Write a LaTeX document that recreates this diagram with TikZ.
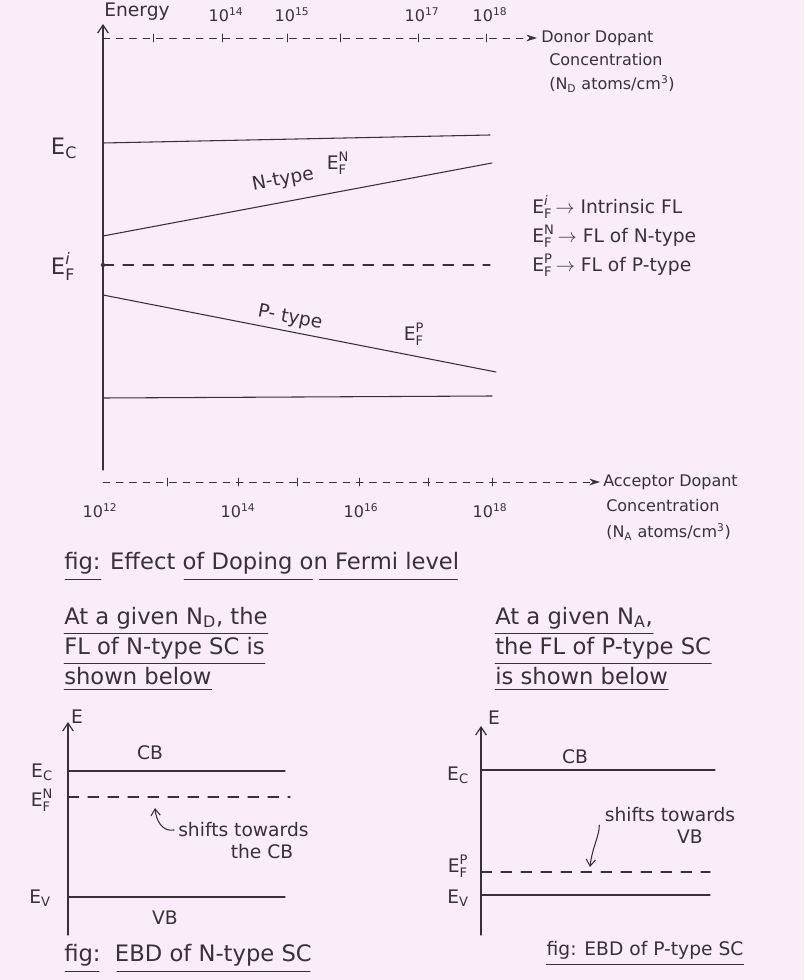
\documentclass[tikz,border=0pt]{standalone}
\usepackage{amsmath,amssymb}
\usepackage{fontspec}
\setmainfont{DejaVu Sans}
\usepackage{tikz}
\usetikzlibrary{arrows.meta,positioning}
\definecolor{paper}{RGB}{250,236,248}
\definecolor{pen}{RGB}{55,50,55}
\newcommand{\lev}[2]{$\text{E}_{\text{#1}}^{\text{#2}}$}

\begin{document}
\begin{tikzpicture}[x=0.75pt,y=-0.75pt,line cap=round,line join=round,
  lvl/.style={draw=pen,line width=.8pt},
  fermi/.style={draw=pen,line width=.8pt,dash pattern=on 8pt off 7pt},
  conc/.style={draw=pen,line width=.7pt,dash pattern=on 5pt off 5pt,-{Stealth[length=8pt,width=5pt]}},
  eaxis/.style={draw=pen,line width=.9pt,-{Straight Barb[length=6pt,width=8pt]}},
  note/.style={text=pen,font=\fontsize{12}{14}\selectfont,inner sep=0pt},
  mid/.style={text=pen,font=\fontsize{14}{16}\selectfont,inner sep=0pt},
  big/.style={text=pen,font=\fontsize{17}{19}\selectfont,inner sep=0pt},
  uline/.style={draw=pen,line width=.7pt}]
\fill[paper] (0,0) rectangle (804,980);
\path[use as bounding box] (0,0) rectangle (804,980);

% top chart: energy axis and concentration axes
\coordinate (o) at (103,470);
\coordinate (etop) at (103,24);
\draw[eaxis] (o) -- (etop);
\node[mid] (energy) at (137,12) {Energy};

\coordinate (dL) at (103,38);
\coordinate (dR) at (537,38);
\draw[conc] (dL) -- (dR);
\foreach \x in {153,222,287,340,418,486}
  \draw[pen,line width=.7pt] (\x,34) -- (\x,42);
\node[note] (t14) at (226,15) {10\textsuperscript{14}};
\node[note] (t15) at (292,15) {10\textsuperscript{15}};
\node[note] (t17) at (422,15) {10\textsuperscript{17}};
\node[note] (t18) at (490,15) {10\textsuperscript{18}};
\node[note,anchor=west] (donor) at (541,38) {Donor Dopant};
\node[note,anchor=west] (dconc) at (549,60) {Concentration};
\node[note,anchor=west] (dunit) at (549,84) {(N\textsubscript{D} atoms/cm\textsuperscript{3})};

\coordinate (aL) at (103,482);
\coordinate (aR) at (600,482);
\draw[conc] (aL) -- (aR);
\foreach \x in {167,238,297,359,428,492}
  \draw[pen,line width=.7pt] (\x,478) -- (\x,486);
\node[note] (b12) at (100,511) {10\textsuperscript{12}};
\node[note] (b14) at (238,511) {10\textsuperscript{14}};
\node[note] (b16) at (361,511) {10\textsuperscript{16}};
\node[note] (b18) at (490,511) {10\textsuperscript{18}};
\node[note,anchor=west] (acc) at (603,482) {Acceptor Dopant};
\node[note,anchor=west] (aconc) at (606,506) {Concentration};
\node[note,anchor=west] (aunit) at (606,532) {(N\textsubscript{A} atoms/cm\textsuperscript{3})};

% levels
\coordinate (ecL) at (103,143);
\coordinate (ecR) at (490,135);
\draw[lvl] (ecL) -- (ecR);
\node[big] (ec) at (64,148) {E\textsubscript{C}};

\coordinate (nL) at (103,236);
\coordinate (nR) at (492,163);
\draw[lvl] (nL) -- (nR);
\node[mid,rotate=10.7] (ntype) at (283,180) {N-type};
\node[mid] (nef1) at (338,163) {\lev{F}{N}};

\coordinate (fiL) at (103,265);
\coordinate (fiR) at (490,265);
\draw[fermi] (fiL) -- (fiR);
\fill[pen] (fiL) circle (1.6pt);
\node[big] (efi) at (63,266) {\lev{F}{\textit{i}}};

\coordinate (pL) at (103,295);
\coordinate (pR) at (496,372);
\draw[lvl] (pL) -- (pR);
\node[mid,rotate=-11] (ptype) at (290,318) {P- type};
\node[mid] (pef) at (414,334) {\lev{F}{P}};

\coordinate (evL) at (103,398);
\coordinate (evR) at (492,396);
\draw[lvl] (evL) -- (evR);

% legend
\node[mid,anchor=west] (leg1) at (532,207) {\lev{F}{\textit{i}}$\,\rightarrow$ Intrinsic FL};
\node[mid,anchor=west] (leg2) at (532,236) {\lev{F}{N}$\,\rightarrow$ FL of N-type};
\node[mid,anchor=west] (leg3) at (532,265) {\lev{F}{P}$\,\rightarrow$ FL of P-type};

% caption of the top chart
\node[big,anchor=west] (cap1) at (64,563) {fig: Effect of Doping on Fermi level};
\draw[uline] ([shift={(1,5)}]cap1.south west) -- ++(36,0);
\draw[uline] ([shift={(120,5)}]cap1.south west) -- ++(95,0);
\draw[uline] ([shift={(-235,5)}]cap1.south east) -- ++(88,0);
\draw[uline] ([shift={(-140,5)}]cap1.south east) -- ([shift={(-2,5)}]cap1.south east);

% remarks
\node[big,anchor=west] (rl1) at (64,618) {At a given N\textsubscript{D}, the};
\node[big,anchor=west] (rl2) at (64,648) {FL of N-type SC is};
\node[big,anchor=west] (rl3) at (64,676) {shown below};
\draw[uline] ([yshift=-3]rl1.south west) -- ([yshift=-3]rl1.south east);
\draw[uline] ([yshift=-3]rl2.south west) -- ([yshift=-3]rl2.south east);
\draw[uline] ([yshift=-3]rl3.south west) -- ([yshift=-3]rl3.south east);

\node[big,anchor=west] (rr1) at (495,618) {At a given N\textsubscript{A},};
\node[big,anchor=west] (rr2) at (495,648) {the FL of P-type SC};
\node[big,anchor=west] (rr3) at (495,676) {is shown below};
\draw[uline] ([yshift=-3]rr1.south west) -- ([yshift=-3]rr1.south east);
\draw[uline] ([yshift=-3]rr2.south west) -- ([yshift=-3]rr2.south east);
\draw[uline] ([yshift=-3]rr3.south west) -- ([yshift=-3]rr3.south east);

% EBD of N-type SC
\coordinate (no) at (68,935);
\coordinate (ntop) at (68,722);
\draw[eaxis] (no) -- (ntop);
\node[mid] (nE) at (77,717) {E};
\node[mid] (ncb) at (150,753) {CB};
\coordinate (necL) at (68,771);
\coordinate (necR) at (285,771);
\draw[lvl] (necL) -- (necR);
\node[mid] (nec) at (42,772) {E\textsubscript{C}};
\coordinate (nefL) at (68,797);
\coordinate (nefR) at (290,797);
\draw[fermi] (nefL) -- (nefR);
\node[mid] (nef) at (42,800) {\lev{F}{N}};
\coordinate (nevL) at (68,897);
\coordinate (nevR) at (285,897);
\draw[lvl] (nevL) -- (nevR);
\node[mid] (nev) at (40,898) {E\textsubscript{V}};
\node[mid] (nvb) at (165,918) {VB};
\node[mid,anchor=west] (nsh1) at (178,830) {shifts towards};
\node[mid] (nsh2) at (262,852) {the CB};
\coordinate (narr) at (155,808);
\draw[pen,line width=.8pt,-{Straight Barb[length=5pt,width=7pt]}] ([xshift=-3]nsh1.west) .. controls (162,832) and (156,820) .. (narr);
\node[big,anchor=west] (ncap) at (64,955) {fig:\ \ EBD of N-type SC};
\draw[uline] ([shift={(1,5)}]ncap.south west) -- ++(34,0);
\draw[uline] ([shift={(-2,5)}]ncap.south east) -- ([shift={(-195,5)}]ncap.south east);

% EBD of P-type SC
\coordinate (po) at (481,935);
\coordinate (ptop) at (481,726);
\draw[eaxis] (po) -- (ptop);
\node[mid] (pE) at (494,718) {E};
\node[mid] (pcb) at (575,757) {CB};
\coordinate (pecL) at (481,770);
\coordinate (pecR) at (715,770);
\draw[lvl] (pecL) -- (pecR);
\node[mid] (pec) at (458,775) {E\textsubscript{C}};
\node[mid] (psh1) at (670,815) {shifts towards};
\node[mid] (psh2) at (690,837) {VB};
\coordinate (pefL) at (481,872);
\coordinate (pefR) at (710,872);
\draw[fermi] (pefL) -- (pefR);
\node[mid] (pef2) at (458,866) {\lev{F}{P}};
\coordinate (pevL) at (481,895);
\coordinate (pevR) at (710,895);
\draw[lvl] (pevL) -- (pevR);
\node[mid] (pev) at (458,898) {E\textsubscript{V}};
\coordinate (parr) at (590,867);
\draw[pen,line width=.8pt,-{Straight Barb[length=5pt,width=7pt]}] ([xshift=-4,yshift=-2]psh1.south west) .. controls (600,834) and (592,848) .. (parr);
\node[mid] (pcap) at (645,950) {fig: EBD of P-type SC};
\draw[uline] ([yshift=-4]pcap.south west) -- ([yshift=-4]pcap.south east);
\end{tikzpicture}
\end{document}
